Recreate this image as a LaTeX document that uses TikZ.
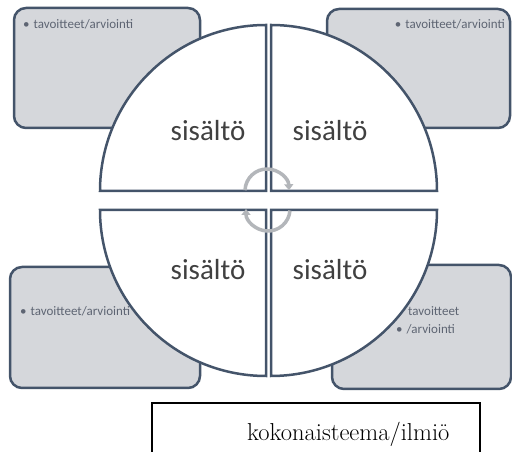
\documentclass[tikz,border=0pt]{standalone}
\usepackage{fontspec}
\newfontfamily\carlito{Carlito}
\usetikzlibrary{arrows.meta}
\definecolor{edge}{HTML}{44546A}
\definecolor{panelfill}{HTML}{D5D7DB}
\definecolor{notetext}{HTML}{5E6573}
\definecolor{labeltext}{HTML}{404040}
\definecolor{turngray}{HTML}{B3B6BA}
\begin{document}
\begin{tikzpicture}[x=1pt,y=1pt,
  panel/.style={draw=edge, line width=2.5pt, fill=panelfill, rounded corners=12pt},
  quadrant/.style={draw=edge, line width=2.5pt, fill=white, line join=miter},
  note/.style={font=\carlito\fontsize{13}{16}\selectfont, text=notetext, inner sep=0pt},
  label/.style={font=\carlito\fontsize{29}{34}\selectfont, text=labeltext, inner sep=0pt},
  turn/.style={draw=turngray, line width=3.5pt, -{Triangle[length=6pt,width=9pt]}},
  themebox/.style={draw=black, line width=1.3pt, fill=white}
]
\useasboundingbox (0,0) rectangle (512,452);
\clip (0,0) rectangle (512,452);

% corner panels
\draw[panel] (14,324) rectangle (200,444);
\draw[panel] (327,324) rectangle (510,443);
\draw[panel] (10,64) rectangle (200,185);
\draw[panel] (332,63) rectangle (511,187);

% panel notes
\node[note, anchor=base west] (n1) at (23,423) {•\hspace{4pt}tavoitteet/arviointi};
\node[note, anchor=base east] (n2) at (505,423) {•\hspace{4pt}tavoitteet/arviointi};
\node[note, anchor=base west] (n3) at (20,136) {•\hspace{4pt}tavoitteet/arviointi};
\node[note, anchor=base west] (n4a) at (408,136) {tavoitteet};
\node[note, anchor=base west] (n4b) at (396,118) {•\hspace{4pt}/arviointi};

% four quadrants of the circle
\draw[quadrant] (266,261) -- ++(-166,0) arc[start angle=180, end angle=90, radius=166] -- cycle;
\draw[quadrant] (271,261) -- ++(0,166) arc[start angle=90, end angle=0, radius=166] -- cycle;
\draw[quadrant] (266,242) -- ++(0,-166) arc[start angle=270, end angle=180, radius=166] -- cycle;
\draw[quadrant] (271,242) -- ++(166,0) arc[start angle=0, end angle=-90, radius=166] -- cycle;

% quadrant labels
\node[label, anchor=base] (q1) at (208,311) {sisältö};
\node[label, anchor=base] (q2) at (330,311) {sisältö};
\node[label, anchor=base] (q3) at (208,172) {sisältö};
\node[label, anchor=base] (q4) at (330,172) {sisältö};

% circular arrows in the middle
\draw[turn] (267,261) ++(178:22) arc[start angle=178, end angle=2, radius=22];
\draw[turn] (268,243) ++(-4:22) arc[start angle=-4, end angle=-180, radius=22];

% theme box
\draw[themebox] (152,49) rectangle (480,-10);
\node[font=\fontsize{24.5}{29}\selectfont, anchor=base west, inner sep=0pt] (theme) at (247,11) {kokonaisteema/ilmiö};
\end{tikzpicture}
\end{document}
